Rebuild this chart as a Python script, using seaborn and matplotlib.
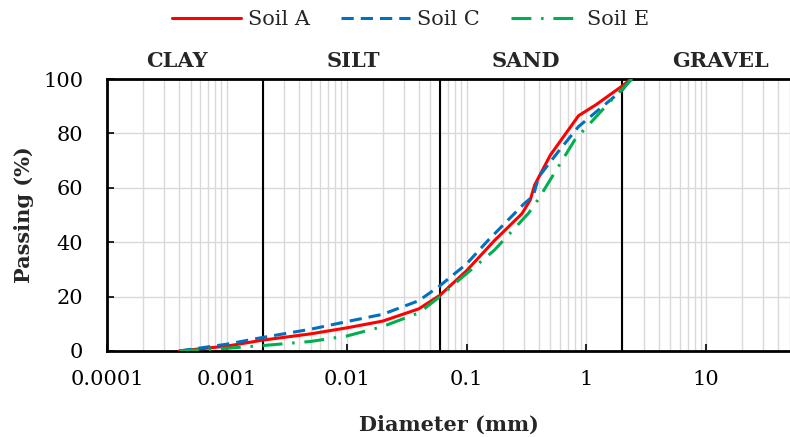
import numpy as np
import pandas as pd
import matplotlib
matplotlib.use("Agg")
import matplotlib.pyplot as plt
from matplotlib.ticker import LogLocator, FixedLocator, NullFormatter
from matplotlib.lines import Line2D
import seaborn as sns

# ---- data ----
diam_A = [0.0004, 0.001, 0.002, 0.005, 0.01, 0.02, 0.04, 0.06, 0.1, 0.17, 0.29, 0.34, 0.37, 0.5, 0.7, 0.86, 1.2, 2.0, 2.36]
pass_A = [0, 1.8, 4, 6.3, 8.5, 11, 15.5, 20.5, 29.5, 40.5, 50.5, 55.5, 61, 72, 81, 86.5, 90.5, 97.5, 100]

diam_C = [0.0004, 0.001, 0.002, 0.005, 0.01, 0.02, 0.04, 0.06, 0.1, 0.15, 0.3, 0.36, 0.4, 0.6, 0.86, 2.0, 2.36]
pass_C = [0, 2.5, 5, 8, 10.8, 13.5, 18.5, 24, 32, 40.5, 54, 57, 64, 74, 82.5, 96, 100]

diam_E = [0.0004, 0.001, 0.002, 0.005, 0.01, 0.02, 0.04, 0.06, 0.086, 0.17, 0.33, 0.4, 0.48, 0.8, 1.6, 2.4]
pass_E = [0, 1, 2, 3.5, 5.5, 9, 14, 20, 26, 37, 50.7, 56, 61.7, 77.6, 92, 100]

series_names = ["Soil A", "Soil C", "Soil E"]
boundaries = [0.002, 0.06, 2.0]
zone_names = ["CLAY", "SILT", "SAND", "GRAVEL"]
zone_x = [0.00038, 0.0114, 0.31, 13.1]
x_ticks = [0.0001, 0.001, 0.01, 0.1, 1, 10]
x_ticklabels = ["0.0001", "0.001", "0.01", "0.1", "1", "10"]
y_ticks = [0, 20, 40, 60, 80, 100]

sns.set_theme(style="white")
plt.rcParams['font.family'] = ['DejaVu Serif']

df = pd.concat([
    pd.DataFrame({"d": diam_A, "p": pass_A, "s": series_names[0]}),
    pd.DataFrame({"d": diam_C, "p": pass_C, "s": series_names[1]}),
    pd.DataFrame({"d": diam_E, "p": pass_E, "s": series_names[2]}),
])

fig = plt.figure(figsize=(7.9, 4.37), dpi=100)
ax = fig.add_axes([0.1354, 0.1968, 0.8646, 0.6224])

palette = {"Soil A": "#FF0000", "Soil C": "#0070C0", "Soil E": "#00B050"}
dashes = {"Soil A": "", "Soil C": (4, 2.3), "Soil E": (6.5, 3.2, 0.8, 3.2)}
sns.lineplot(data=df, x="d", y="p", hue="s", style="s", palette=palette,
             dashes=dashes, sort=False, estimator=None, lw=2.2, ax=ax, legend=False, zorder=5)

ax.set_xscale("log")
ax.set_xlim(0.0001, 50)
ax.set_ylim(0, 100)

# grid
ax.xaxis.set_minor_locator(LogLocator(base=10, subs=np.arange(2, 10), numticks=20))
ax.xaxis.set_minor_formatter(NullFormatter())
ax.grid(True, which="minor", axis="x", color="#D9D9D9", lw=1.0)
ax.grid(True, which="major", axis="both", color="#D9D9D9", lw=1.0)
ax.set_axisbelow(True)

ax.xaxis.set_major_locator(FixedLocator(x_ticks))
ax.set_xticklabels(x_ticklabels)
ax.set_yticks(y_ticks)
ax.tick_params(axis="both", which="major", direction="in", length=5, width=1.2,
               labelsize=15, colors="black", bottom=True, left=True)
ax.tick_params(axis="x", which="major", pad=14)
ax.tick_params(axis="x", which="minor", length=0)
ax.tick_params(axis="y", pad=17)

for b in boundaries:
    ax.axvline(b, color="black", lw=1.5, zorder=4)

for side in ["left", "bottom", "top"]:
    ax.spines[side].set_color("black")
    ax.spines[side].set_linewidth(2)
ax.spines["right"].set_visible(False)

# zone labels
for zx, zn in zip(zone_x, zone_names):
    ax.text(zx, 103, zn, ha="center", va="bottom", fontsize=15, fontweight="bold",
            transform=ax.transData, clip_on=False)

ax.set_xlabel("Diameter (mm)", fontsize=15, fontweight="bold", labelpad=18)
ax.set_ylabel("Passing (%)", fontsize=15, fontweight="bold", labelpad=7)

handles = [Line2D([], [], color=palette[n], lw=2.2,
                  linestyle=("-" if dashes[n] == "" else (0, dashes[n]))) for n in series_names]
fig.legend(handles, series_names, loc="upper center", bbox_to_anchor=(0.52, 1.02), ncol=3,
           frameon=False, fontsize=15, handlelength=3.3, columnspacing=1.5, handletextpad=0.35)

fig.savefig("out.png", dpi=100)
